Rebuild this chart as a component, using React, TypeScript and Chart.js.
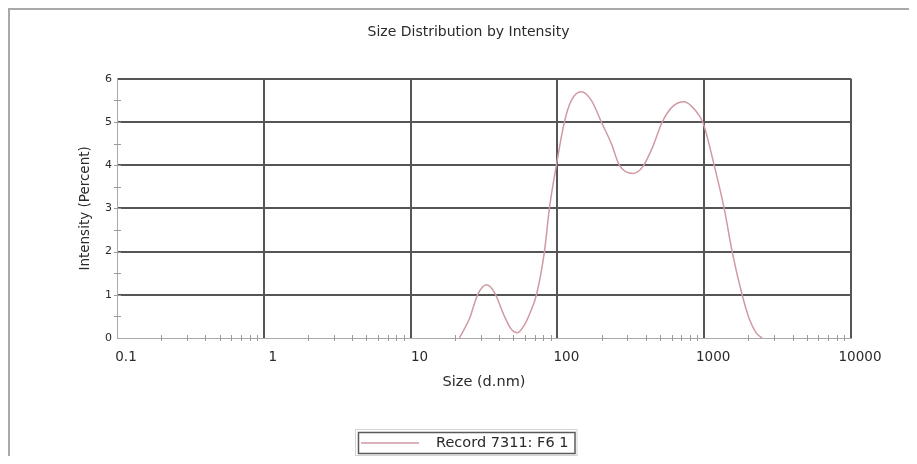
import React, { useEffect, useRef } from "react";
import { Chart, registerables } from "chart.js";

Chart.register(...registerables);

const TITLE = "Size Distribution by Intensity";
const X_TITLE = "Size (d.nm)";
const Y_TITLE = "Intensity (Percent)";
const SERIES_LABEL = "Record 7311: F6 1";

const X_TICKS = [0.1, 1, 10, 100, 1000, 10000];
const Y_TICKS = [0, 1, 2, 3, 4, 5, 6];
const X_MINOR_MULTIPLIERS = [2, 3, 4, 5, 6, 7, 8, 9];
const Y_MINOR_TICKS = [0.5, 1, 1.5, 2, 2.5, 3, 3.5, 4, 4.5, 5, 5.5];

const sizes = [
  21.5, 25.2, 28.6, 32.9, 37.3, 43.6, 48.6, 53.4, 59.6, 65.5,
  72.0, 81.6, 88.2, 98.4, 111.6, 124.5, 145.6, 170.3, 199.2, 233.0,
  264.2, 323.7, 378.6, 443.0, 518.0, 605.8, 731.1, 855.0, 984.0, 1169.5,
  1368, 1550, 1813, 2024, 2258, 2481,
];
const intensity = [
  0, 0.45, 1.0, 1.23, 1.05, 0.5, 0.2, 0.12, 0.3, 0.6,
  1.0, 2.0, 3.0, 4.0, 5.0, 5.5, 5.7, 5.5, 5.0, 4.5,
  4.0, 3.81, 3.95, 4.4, 5.0, 5.35, 5.47, 5.3, 4.97, 4.0,
  3.0, 2.0, 1.0, 0.45, 0.12, 0,
];

const FONT = "'DejaVu Sans', 'Liberation Sans', Arial, sans-serif";
const TEXT = "#2a2a2a";
const GRID = "#555555";
const AXIS = "#aaaaaa";
const MINOR = "#9a9a9a";
const LINE = "#d09aa3";
const CLEAR = "rgba(0,0,0,0)";

const minorTicksPlugin = {
  id: "minorTicks",
  beforeDatasetsDraw(chart: any) {
    const { ctx, scales } = chart;
    const x = scales.x;
    const y = scales.y;
    ctx.save();
    ctx.strokeStyle = MINOR;
    ctx.lineWidth = 1;
    ctx.beginPath();
    for (let i = 0; i < X_TICKS.length - 1; i++) {
      for (const m of X_MINOR_MULTIPLIERS) {
        const px = Math.round(x.getPixelForValue(X_TICKS[i] * m)) + 0.5;
        ctx.moveTo(px, y.bottom - 3);
        ctx.lineTo(px, y.bottom + 3);
      }
    }
    for (const v of Y_MINOR_TICKS) {
      const py = Math.round(y.getPixelForValue(v)) + 0.5;
      ctx.moveTo(x.left - 3, py);
      ctx.lineTo(x.left + 4, py);
    }
    ctx.stroke();
    ctx.restore();
  },
};

const boxedLegendPlugin = {
  id: "boxedLegend",
  afterDraw(chart: any) {
    const { ctx } = chart;
    const ds = chart.data.datasets[0];
    ctx.save();
    ctx.font = `14.5px ${FONT}`;
    const tw = ctx.measureText(ds.label).width;
    const padL = 3;
    const lineLen = 58;
    const gap = 17;
    const padR = 6;
    const h = 21;
    const w = padL + lineLen + gap + tw + padR;
    const left = Math.round(chart.width / 2 - w / 2) - 2;
    const top = chart.height - 32;
    ctx.strokeStyle = "#d4d4d4";
    ctx.lineWidth = 1;
    ctx.strokeRect(left - 2.5, top - 2.5, w + 5, h + 5);
    ctx.strokeStyle = "#5a5a5a";
    ctx.lineWidth = 1.5;
    ctx.strokeRect(left + 0.5, top + 0.5, w, h);
    ctx.strokeStyle = ds.borderColor;
    ctx.lineWidth = 1.5;
    ctx.beginPath();
    ctx.moveTo(left + padL, top + h / 2 + 0.5);
    ctx.lineTo(left + padL + lineLen, top + h / 2 + 0.5);
    ctx.stroke();
    ctx.fillStyle = TEXT;
    ctx.textBaseline = "middle";
    ctx.textAlign = "left";
    ctx.fillText(ds.label, left + padL + lineLen + gap, top + h / 2 + 1);
    ctx.restore();
  },
};

export default function App() {
  const canvasRef = useRef<HTMLCanvasElement | null>(null);

  useEffect(() => {
    if (!canvasRef.current) return;
    const chart = new Chart(canvasRef.current, {
      type: "line",
      data: {
        datasets: [
          {
            label: SERIES_LABEL,
            data: sizes.map((s, i) => ({ x: s, y: intensity[i] })),
            borderColor: LINE,
            borderWidth: 1.5,
            pointRadius: 0,
            fill: false,
            cubicInterpolationMode: "monotone",
          },
        ],
      },
      options: {
        animation: false,
        responsive: false,
        devicePixelRatio: 1,
        events: [],
        layout: { padding: { left: 0, right: 0, top: 0, bottom: 66 } },
        plugins: {
          legend: { display: false },
          tooltip: { enabled: false },
          title: {
            display: true,
            text: TITLE,
            color: TEXT,
            font: { family: FONT, size: 14, weight: "normal" },
            padding: { top: 14, bottom: 38 },
          },
        },
        scales: {
          x: {
            type: "logarithmic",
            min: 0.1,
            max: 10000,
            afterBuildTicks: (s: any) => {
              s.ticks = X_TICKS.map((v) => ({ value: v, major: true }));
            },
            afterFit: (s: any) => {
              s.height = 60;
              s.paddingRight = 76;
            },
            ticks: {
              callback: (v: any) => String(v),
              autoSkip: false,
              maxRotation: 0,
              padding: 11,
              labelOffset: 9,
              color: TEXT,
              font: { family: FONT, size: 13.5 },
            },
            grid: {
              color: (c: any) => (c.tick && c.tick.value === 0.1 ? CLEAR : GRID),
              lineWidth: 2,
              drawTicks: false,
            },
            border: { color: AXIS, width: 1 },
            title: {
              display: true,
              text: X_TITLE,
              color: TEXT,
              font: { family: FONT, size: 14.5 },
              padding: { top: 0, bottom: 7 },
            },
          },
          y: {
            min: 0,
            max: 6,
            afterBuildTicks: (s: any) => {
              s.ticks = Y_TICKS.map((v) => ({ value: v }));
            },
            afterFit: (s: any) => {
              s.width = 107;
            },
            ticks: {
              padding: 5,
              color: TEXT,
              font: { family: FONT, size: 11 },
            },
            grid: {
              color: (c: any) => (c.tick && c.tick.value === 0 ? CLEAR : GRID),
              lineWidth: 2,
              drawTicks: false,
            },
            border: { color: AXIS, width: 1 },
            title: {
              display: true,
              text: Y_TITLE,
              color: TEXT,
              font: { family: FONT, size: 13.5 },
              padding: { top: 67, bottom: 0 },
            },
          },
        },
      },
      plugins: [minorTicksPlugin, boxedLegendPlugin],
    } as any);
    return () => chart.destroy();
  }, []);

  return (
    <div
      style={{
        width: 901,
        height: 448,
        boxSizing: "border-box",
        borderTop: "2px solid #a9a9a9",
        borderLeft: "2px solid #a9a9a9",
        overflow: "hidden",
        background: "#ffffff",
      }}
    >
      <canvas ref={canvasRef} width={917} height={454} style={{ display: "block", width: 917, height: 454 }} />
    </div>
  );
}
